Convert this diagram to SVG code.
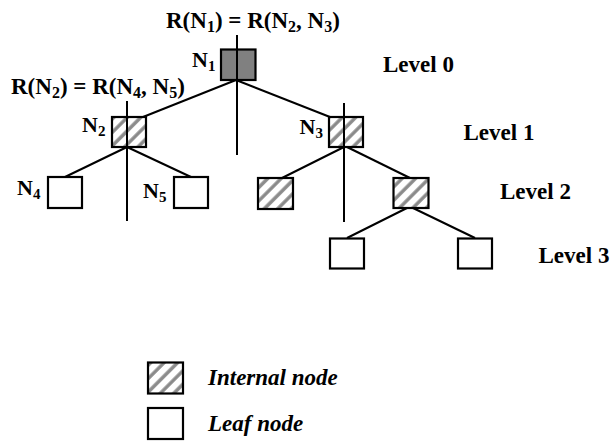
<svg xmlns="http://www.w3.org/2000/svg" width="612" height="441" viewBox="0 0 612 441">
  <defs>
    <pattern id="hatch" patternUnits="userSpaceOnUse" width="9.5" height="9.5" patternTransform="rotate(45)">
      <rect width="9.5" height="9.5" fill="#ffffff"/>
      <line x1="2" y1="0" x2="2" y2="9.5" stroke="#8a8a8a" stroke-width="3.4"/>
    </pattern>
  </defs>
  <style>
    .box { stroke: #000; stroke-width: 2.2; }
    .root { fill: #808080; }
    .internal { fill: url(#hatch); }
    .leaf { fill: #fff; }
    .edge { stroke: #000; stroke-width: 2; fill: none; }
    .t { font-family: "Liberation Serif", "Times New Roman", serif; font-weight: bold; font-size: 22px; fill: #000; }
    .eq { font-size: 23px; }
    .lvl { font-size: 23px; }
    .leg { font-style: italic; font-size: 23px; }
    .sub { font-size: 15px; }
    .eq .sub { font-size: 16px; }
  </style>
  <rect width="612" height="441" fill="#fff"/>

  <g id="N1">
    <rect class="box root" x="221" y="49.5" width="34.5" height="30.5"/>
    <text class="t" x="192" y="67">N<tspan class="sub" dy="4">1</tspan></text>
  </g>
  <g id="N2">
    <rect class="box internal" x="112" y="117" width="34" height="30"/>
    <text class="t" x="82" y="132">N<tspan class="sub" dy="4">2</tspan></text>
  </g>
  <g id="N3">
    <rect class="box internal" x="329" y="117" width="34" height="30"/>
    <text class="t" x="299.5" y="133.5">N<tspan class="sub" dy="4">3</tspan></text>
  </g>
  <g id="N4">
    <rect class="box leaf" x="48" y="177" width="34" height="31"/>
    <text class="t" x="17" y="194.5">N<tspan class="sub" dy="4">4</tspan></text>
  </g>
  <g id="N5">
    <rect class="box leaf" x="174" y="177" width="34" height="31"/>
    <text class="t" x="143" y="197.5">N<tspan class="sub" dy="4">5</tspan></text>
  </g>
  <g id="N6">
    <rect class="box internal" x="258" y="178" width="35" height="31"/>
  </g>
  <g id="N7">
    <rect class="box internal" x="393.5" y="178" width="35" height="30"/>
  </g>
  <g id="N8">
    <rect class="box leaf" x="330" y="238.5" width="34" height="30"/>
  </g>
  <g id="N9">
    <rect class="box leaf" x="458" y="238.5" width="34" height="30"/>
  </g>

  <!-- tree edges and split lines, drawn over the boxes -->
  <g id="connectors">
    <line class="edge" x1="237" y1="35" x2="237" y2="155"/>
    <line class="edge" x1="236" y1="80" x2="143" y2="117"/>
    <line class="edge" x1="236" y1="80" x2="330" y2="117"/>
    <line class="edge" x1="127" y1="101" x2="127" y2="221"/>
    <line class="edge" x1="127" y1="147" x2="65" y2="177"/>
    <line class="edge" x1="127" y1="147" x2="191" y2="177"/>
    <line class="edge" x1="344" y1="103" x2="344" y2="222"/>
    <line class="edge" x1="344" y1="147" x2="282" y2="178"/>
    <line class="edge" x1="347" y1="147" x2="410" y2="178"/>
    <line class="edge" x1="407" y1="208" x2="347" y2="238"/>
    <line class="edge" x1="413" y1="208" x2="475" y2="238"/>
  </g>

  <!-- bounding region equations -->
  <g id="labels">
    <text class="t eq" x="166" y="27.5">R(N<tspan class="sub" dy="4">1</tspan><tspan dy="-4">) = R(N</tspan><tspan class="sub" dy="4">2</tspan><tspan dy="-4">, N</tspan><tspan class="sub" dy="4">3</tspan><tspan dy="-4">)</tspan></text>
    <text class="t eq" x="11" y="94">R(N<tspan class="sub" dy="4">2</tspan><tspan dy="-4">) = R(N</tspan><tspan class="sub" dy="4">4</tspan><tspan dy="-4">, N</tspan><tspan class="sub" dy="4">5</tspan><tspan dy="-4">)</tspan></text>
  </g>

  <!-- level captions -->
  <g id="levels">
    <text class="t lvl" x="383" y="72">Level 0</text>
    <text class="t lvl" x="463.5" y="140">Level 1</text>
    <text class="t lvl" x="500" y="199">Level 2</text>
    <text class="t lvl" x="538.5" y="262.5">Level 3</text>
  </g>

  <!-- legend -->
  <g id="legend">
    <rect class="box internal" x="148" y="362.5" width="35" height="31"/>
    <text class="t leg" x="208" y="385">Internal node</text>
    <rect class="box leaf" x="148" y="408" width="35" height="31"/>
    <text class="t leg" x="208" y="431">Leaf node</text>
  </g>
</svg>
